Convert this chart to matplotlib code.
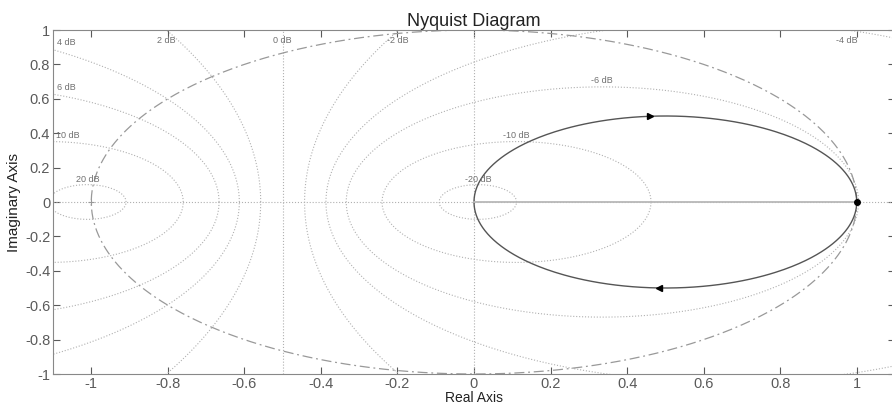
import numpy as np
import matplotlib
matplotlib.use("Agg")
import matplotlib.pyplot as plt

plt.rcParams["font.family"] = ["Liberation Sans", "DejaVu Sans"]

# settings
m_levels_db = [-20, -10, -6, -4, -2, 0, 2, 4, 6, 10, 20]
label_text = ["4 dB", "2 dB", "0 dB", "-2 dB", "-4 dB", "6 dB", "-6 dB",
              "10 dB", "-10 dB", "20 dB", "-20 dB"]
label_x = [-1.065, -0.805, -0.50, -0.20, 0.975, -1.065, 0.335,
           -1.06, 0.11, -1.01, 0.01]
label_y = [0.925, 0.94, 0.94, 0.94, 0.94, 0.665, 0.705, 0.385, 0.385, 0.13, 0.13]

# plant 1/(s+1)
num = [1.0]
den = [1.0, 1.0]
freqs = np.logspace(-3, 3, 600)
arrow_top_w = 1.08
arrow_bot_w = 1.04

xticks = [-1, -0.8, -0.6, -0.4, -0.2, 0, 0.2, 0.4, 0.6, 0.8, 1]
yticks = [-1, -0.8, -0.6, -0.4, -0.2, 0, 0.2, 0.4, 0.6, 0.8, 1]

grid_col = "#b0b0b0"
tick_col = "#5a5a5a"

fig = plt.figure(figsize=(8.92, 4.04), dpi=100)
ax = fig.add_axes([53 / 892, 30 / 404, 842 / 892, 344 / 404])
ax.set_xlim(-1.1, 1.1)
ax.set_ylim(-1, 1)

# M circles
t = np.linspace(0, 2 * np.pi, 720)
for db in m_levels_db:
    m = 10 ** (db / 20.0)
    if db == 0:
        ax.plot([-0.5, -0.5], [-1, 1], ls=":", color=grid_col, lw=0.8)
        continue
    c = -m ** 2 / (m ** 2 - 1)
    r = abs(m / (m ** 2 - 1))
    ax.plot(c + r * np.cos(t), r * np.sin(t), ls=":", color=grid_col, lw=0.8)
ax.axhline(0, ls=":", color=grid_col, lw=0.8)
ax.axvline(0, ls=":", color=grid_col, lw=0.8)

for s, x, y in zip(label_text, label_x, label_y):
    ax.text(x, y, s, fontsize=6.5, color="#707070", ha="center", va="center")

# unit circle
ax.plot(np.cos(t), np.sin(t), color="#999999", lw=0.9, dashes=[8, 3, 1.5, 3])
ax.plot(-1, 0, "+", color="#999999", ms=5, mew=0.8)

# nyquist
g = np.polyval(num, 1j * freqs) / np.polyval(den, 1j * freqs)
ax.plot(g.real, g.imag, color="#555555", lw=1.0)
ax.plot(g.real, -g.imag, color="#555555", lw=1.0)
ax.plot([0, 1], [0, 0], color="#b8b8b8", lw=1.3)
ax.plot(1, 0, "o", color="black", ms=4)
i_top = np.argmin(np.abs(freqs - arrow_top_w))
i_bot = np.argmin(np.abs(freqs - arrow_bot_w))
ax.plot(g.real[i_top], -g.imag[i_top], marker=">", color="black", ms=4.5)
ax.plot(g.real[i_bot], g.imag[i_bot], marker="<", color="black", ms=4.5)

ax.set_xticks(xticks)
ax.set_yticks(yticks)
ax.set_xticklabels([f"{v:g}" for v in xticks])
ax.set_yticklabels([f"{v:g}" for v in yticks])
ax.tick_params(direction="in", top=True, right=True, length=5, width=0.8,
               colors=tick_col, labelsize=10.5, labelcolor=tick_col, pad=2)
for sp in ax.spines.values():
    sp.set_color("#888888")
    sp.set_linewidth(0.8)

ax.set_title("Nyquist Diagram", fontsize=13, color="#222222", pad=3)
ax.set_xlabel("Real Axis", fontsize=10, color="#222222", labelpad=0)
ax.set_ylabel("Imaginary Axis", fontsize=11, color="#222222", labelpad=3)

fig.savefig("out.png", dpi=100)
